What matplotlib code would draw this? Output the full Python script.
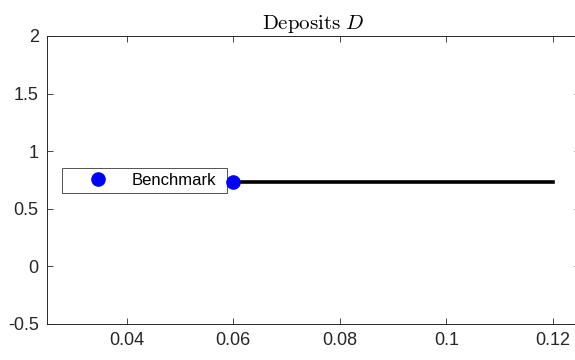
import matplotlib.pyplot as plt

# data
rate = [0.06, 0.12]
deposits = [0.735, 0.735]
bench_rate = [0.06]
bench_deposits = [0.735]

xticks = [0.04, 0.06, 0.08, 0.1, 0.12]
yticks = [-0.5, 0, 0.5, 1, 1.5, 2]

plt.rcParams['font.family'] = ['Liberation Sans', 'DejaVu Sans']
plt.rcParams['mathtext.fontset'] = 'cm'

fig = plt.figure(figsize=(5.75, 3.6), dpi=100)
ax = fig.add_axes([47/575, 36/360, 532.5/575, 288/360])

ax.plot(rate, deposits, color='k', lw=2.6, zorder=2)
ax.plot(bench_rate, bench_deposits, 'o', color='#0000ff', ms=9.5, label='Benchmark', zorder=3)

ax.set_xlim(0.025, 0.125)
ax.set_ylim(-0.5, 2)
ax.set_xticks(xticks)
ax.set_xticklabels(['0.04', '0.06', '0.08', '0.1', '0.12'])
ax.set_yticks(yticks)
ax.set_yticklabels(['-0.5', '0', '0.5', '1', '1.5', '2'])
ax.tick_params(direction='in', top=True, right=True, length=4, width=0.6,
               color='#262626', labelsize=13, labelcolor='#262626', pad=6)
for s in ax.spines.values():
    s.set_color('#262626')
    s.set_linewidth(0.7)

ax.set_title(r'$\mathrm{Deposits}\ D$', fontsize=15, pad=5)

leg = ax.legend(loc='lower left', bbox_to_anchor=(0.028, 0.455, 0.31, 0.10), mode='expand',
                fontsize=12, frameon=True, fancybox=False, edgecolor='#262626',
                handlelength=3.7, handletextpad=0.2, borderpad=0.3, borderaxespad=0)
leg.get_frame().set_linewidth(0.7)
leg.set_zorder(1)

fig.savefig('out.png', dpi=100)
